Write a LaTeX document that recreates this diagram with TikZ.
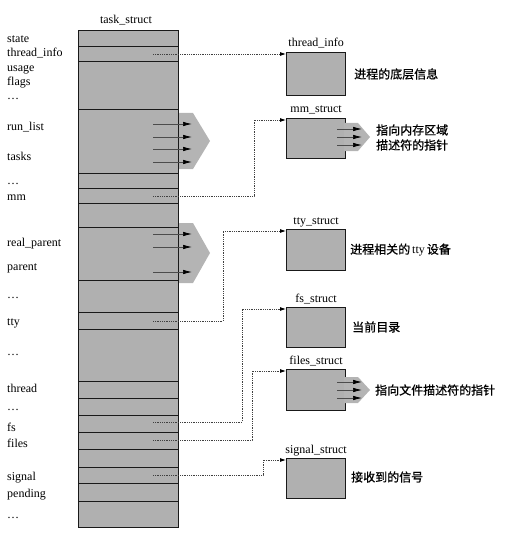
\documentclass[tikz,border=0pt]{standalone}
\usepackage{fontspec}
\setmainfont{Liberation Serif}
\newfontfamily\cjk{Noto Sans CJK SC}[FakeBold=0.8]
\usetikzlibrary{arrows.meta}
\definecolor{cellgray}{RGB}{176,176,176}
\definecolor{fatgray}{RGB}{180,180,180}
\begin{document}
\begin{tikzpicture}[x=1pt,y=-1pt,
  cellbox/.style={draw=black!90, line width=1.2pt, fill=cellgray, minimum width=100pt, inner sep=0pt, anchor=north west},
  sbox/.style={draw=black!90, line width=1.2pt, fill=cellgray, minimum width=59pt, inner sep=0pt, anchor=north west},
  lbl/.style={font=\fontsize{12}{14}\selectfont, anchor=base west, inner sep=0pt},
  ttl/.style={font=\fontsize{12}{14}\selectfont, anchor=base, inner sep=0pt},
  cn/.style={font=\fontsize{12}{15}\selectfont\cjk, anchor=west, inner sep=0pt, align=left},
  ptr/.style={densely dotted, line width=0.8pt, draw=black!75, -{Latex[length=6pt,width=4pt,black]}},
  mini/.style={line width=0.7pt, draw=black!70, -{Latex[length=9pt,width=4.5pt,black]}},
  fat/.style={fill=fatgray, draw=none}]
\useasboundingbox (0,0) rectangle (510,559);

% fat arrows from the task_struct column
\path[fat] (178,113) -- (193,113) -- (210,141) -- (193,169) -- (178,169) -- cycle;
\path[fat] (178,223) -- (193,223) -- (210,253) -- (193,283) -- (178,283) -- cycle;

% task_struct column cells
\foreach \n/\t/\b in {s1/30/46, s2/46/61, s3/61/109, s4/109/173, s5/173/188, s6/188/203,
  s7/203/227, s8/227/280, s9/280/312, s10/312/329, s11/329/381, s12/381/398,
  s13/398/415, s14/415/432, s15/432/449, s16/449/467, s17/467/483, s18/483/501, s19/501/527}
  \node[cellbox, minimum height={(\b-\t)*1pt}] (\n) at (78,\t) {};

\node[ttl] (title) at (126,24) {task\_struct};

% field labels
\node[lbl] (l1) at (7,43) {state};
\node[lbl] (l2) at (7,57) {thread\_info};
\node[lbl] (l3) at (7,72) {usage};
\node[lbl] (l4) at (7,86) {flags};
\node[lbl] (l5) at (7,100) {\ldots};
\node[lbl] (l6) at (7,131) {run\_list};
\node[lbl] (l7) at (7,160) {tasks};
\node[lbl] (l8) at (7,184) {\ldots};
\node[lbl] (l9) at (7,200) {mm};
\node[lbl] (l10) at (7,246) {real\_parent};
\node[lbl] (l11) at (7,270) {parent};
\node[lbl] (l12) at (7,298) {\ldots};
\node[lbl] (l13) at (7,325) {tty};
\node[lbl] (l14) at (7,355) {\ldots};
\node[lbl] (l15) at (7,392) {thread};
\node[lbl] (l16) at (7,410) {\ldots};
\node[lbl] (l17) at (7,431) {fs};
\node[lbl] (l18) at (7,447) {files};
\node[lbl] (l19) at (7,480) {signal};
\node[lbl] (l20) at (7,497) {pending};
\node[lbl] (l21) at (7,518) {\ldots};

% small arrows inside the list cells
\foreach \y [count=\i] in {124,137,149,162} {
  \coordinate (ra\i) at (153,\y);
  \coordinate (rb\i) at (192,\y);
  \draw[mini] (ra\i) -- (rb\i);
}
\foreach \y [count=\i] in {234,247,272} {
  \coordinate (pa\i) at (153,\y);
  \coordinate (pb\i) at (192,\y);
  \draw[mini] (pa\i) -- (pb\i);
}

% target structures
\node[sbox, minimum height=43pt] (tib) at (286,52) {};
\node[sbox, minimum height=40pt] (mmb) at (286,118) {};
\node[sbox, minimum height=41pt] (ttyb) at (286,229) {};
\node[sbox, minimum height=40pt] (fsb) at (286,307) {};
\node[sbox, minimum height=41pt] (fib) at (286,369) {};
\node[sbox, minimum height=40pt] (sgb) at (286,458) {};

\node[ttl] (tibl) at ([yshift=5pt]tib.north) {thread\_info};
\node[ttl] (mmbl) at ([yshift=5pt]mmb.north) {mm\_struct};
\node[ttl] (ttybl) at ([yshift=5pt]ttyb.north) {tty\_struct};
\node[ttl] (fsbl) at ([yshift=5pt]fsb.north) {fs\_struct};
\node[ttl] (fibl) at ([yshift=5pt]fib.north) {files\_struct};
\node[ttl] (sgbl) at ([yshift=5pt]sgb.north) {signal\_struct};

% small fat arrows on mm_struct and files_struct
\path[fat] (344,123) -- (358,123) -- (370,137) -- (358,151) -- (344,151) -- cycle;
\path[fat] (344,377) -- (358,377) -- (370,390) -- (358,403) -- (344,403) -- cycle;
\foreach \y [count=\i] in {129,137,145} {
  \coordinate (ma\i) at (337,\y);
  \coordinate (mb\i) at (362,\y);
  \draw[mini] (ma\i) -- (mb\i);
}
\foreach \y [count=\i] in {382,390,398} {
  \coordinate (fa\i) at (337,\y);
  \coordinate (fb\i) at (362,\y);
  \draw[mini] (fa\i) -- (fb\i);
}

% descriptions
\node[cn] (d1) at (354,74) {进程的底层信息};
\node[cn] (d2) at (376,137.5) {指向内存区域\\描述符的指针};
\node[cn] (d3) at (350,250) {进程相关的\,{\rmfamily\fontsize{12}{14}\selectfont tty}\,设备};
\node[cn] (d4) at (352,327) {当前目录};
\node[cn] (d5) at (375,390) {指向文件描述符的指针};
\node[cn] (d6) at (351,477) {接收到的信号};

% pointer connectors
\coordinate (pti) at (153,54);
\coordinate (pmm) at (153,196);
\coordinate (ptty) at (153,321);
\coordinate (pfs) at (153,422);
\coordinate (pfi) at (153,440);
\coordinate (psg) at (153,475);

\draw[ptr] (pti) -- (pti -| tib.west);
\draw[ptr] (pmm) -| ([xshift=-32pt,yshift=-2pt]mmb.north west) -- ([yshift=-2pt]mmb.north west);
\draw[ptr] (ptty) -| ([xshift=-63pt,yshift=-2pt]ttyb.north west) -- ([yshift=-2pt]ttyb.north west);
\draw[ptr] (pfs) -| ([xshift=-44pt,yshift=-2pt]fsb.north west) -- ([yshift=-2pt]fsb.north west);
\draw[ptr] (pfi) -| ([xshift=-34pt,yshift=-2pt]fib.north west) -- ([yshift=-2pt]fib.north west);
\draw[ptr] (psg) -| ([xshift=-23pt,yshift=-2pt]sgb.north west) -- ([yshift=-2pt]sgb.north west);
\end{tikzpicture}
\end{document}
